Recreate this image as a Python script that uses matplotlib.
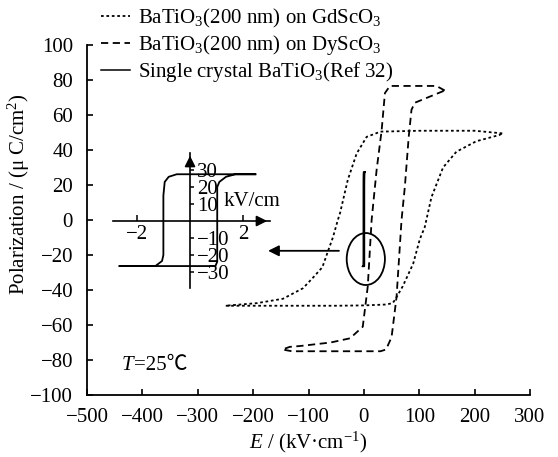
import matplotlib
matplotlib.use('Agg')
import matplotlib.pyplot as plt
from matplotlib.patches import Ellipse

plt.rcParams['font.family'] = ['Liberation Serif', 'Noto Sans CJK SC', 'DejaVu Sans']
plt.rcParams['mathtext.fontset'] = 'custom'
plt.rcParams['mathtext.rm'] = 'Liberation Serif'
plt.rcParams['mathtext.it'] = 'Liberation Serif:italic'
plt.rcParams['font.size'] = 15

# BaTiO3 (200 nm) on GdScO3 -- upper branch then lower branch
gd_E = [250, 200, 100, 30, 5, -13, -29, -43, -47, -56, -65, -75, -92, -110, -146, -193, -250,
        -150, -50, 0, 40, 52, 56, 70, 89, 101, 110, 122, 143, 167, 203, 245, 250]
gd_P = [49.5, 51, 51, 50.5, 47.5, 38, 23, 4, 0, -10, -18, -27, -33, -39, -45, -47.5, -49,
        -49, -49, -48.8, -48.3, -47.5, -45.7, -38, -25, -11, -4, 13, 30, 39, 45, 48.6, 49.5]

# BaTiO3 (200 nm) on DyScO3
dy_E = [146, 131, 47, 38, 32, 23, 14, 7, -2, -25, -60, -115, -134, -147,
        -130, 30, 40, 50, 59, 68, 74, 81, 86, 92, 146]
dy_P = [74, 76.6, 76.6, 72.5, 51, 28.6, 0, -38, -61, -67.6, -70, -72, -72.5, -74,
        -75, -75, -74, -67, -44, 0, 19, 47.6, 63, 67, 74]

# single crystal BaTiO3 (Ref 32), E in kV/cm
sc_E = [2.45, -0.5, -0.8, -0.95, -1.0, -1.0, -1.05, -1.3, -2.65,
        0.95, 1.02, 1.02, 1.1, 1.35, 1.7, 2.45]
sc_P = [27.5, 27.5, 26, 23, 15, -20, -23.5, -26.5, -26.5,
        -26.5, -24, 20, 23, 26, 27.5, 27.5]

x_ticks = [-500, -400, -300, -200, -100, 0, 100, 200, 300]
y_ticks = [-100, -80, -60, -40, -20, 0, 20, 40, 60, 80, 100]
inset_xticks = [-2, 2]
inset_yticks = [-30, -20, -10, 10, 20, 30]

fig = plt.figure(figsize=(5.58, 4.57), dpi=100)
ax = fig.add_axes([87/558, 1 - 395/457, 443/558, 350/457])

l_gd, = ax.plot(gd_E, gd_P, color='black', lw=1.3, linestyle=(0, (1.5, 1.5)))
l_dy, = ax.plot(dy_E, dy_P, color='black', lw=1.3, linestyle=(0, (4, 2.5)))
l_sc, = ax.plot(sc_E, sc_P, color='black', lw=1.1)

# ellipse + arrow pointing to the inset
ax.add_patch(Ellipse((3.5, -22.3), 69, 29.7, fill=False, lw=1.3, color='black'))
ax.annotate('', xy=(-178, -17.6), xytext=(-40, -17.6),
            arrowprops=dict(arrowstyle='-|>', color='black', lw=1.3, mutation_scale=16))

# temperature note (℃ kept out of mathtext so the font fallback works)
ax.text(-437, -83, 'T', fontsize=15, fontstyle='italic', ha='left', va='center')
ax.text(-415, -83, '=25℃', fontsize=15, ha='left', va='center')

ax.set_xlim(-500, 300)
ax.set_ylim(-100, 100)
ax.set_xticks(x_ticks)
ax.set_yticks(y_ticks)
ax.spines['top'].set_visible(False)
ax.spines['right'].set_visible(False)
for s in ('left', 'bottom'):
    ax.spines[s].set_linewidth(1.3)
ax.tick_params(direction='in', length=4, width=1.2)
ax.tick_params(axis='x', pad=9)
ax.tick_params(axis='y', pad=10)
ax.set_xlabel('$E$ / (kV·cm$^{-1}$)', labelpad=2)
ax.set_ylabel('Polarization / (μ C/cm$^2$)')
ax.yaxis.set_label_coords(-0.124, 0.574)

fig.legend([l_gd, l_dy, l_sc],
           ['BaTiO$_3$(200 nm) on GdScO$_3$', 'BaTiO$_3$(200 nm) on DyScO$_3$',
            'Single crystal BaTiO$_3$(Ref 32)'],
           loc='upper left', bbox_to_anchor=(101/558, 1 - 7/457), frameon=False,
           handlelength=1.4, handletextpad=0.4, labelspacing=0.15,
           borderpad=0, borderaxespad=0)

# inset with the single crystal loop
ins = fig.add_axes([113/558, 1 - 288/457, 157/558, 135/457])
ins.patch.set_alpha(0)
ins.plot(sc_E, sc_P, color='black', lw=1.3)
ins.set_xlim(-2.89, 3.0)
ins.set_ylim(-39.4, 40)
ins.spines['bottom'].set_position(('data', 0))
ins.spines['right'].set_position(('data', 0))
ins.spines['top'].set_visible(False)
ins.spines['left'].set_visible(False)
for s in ('bottom', 'right'):
    ins.spines[s].set_linewidth(1.2)
ins.yaxis.tick_right()
ins.set_xticks(inset_xticks)
ins.set_yticks(inset_yticks)
ins.tick_params(axis='x', direction='in', length=4, width=1.1, pad=3)
ins.tick_params(axis='y', direction='out', length=3, width=1.1, pad=2)
ins.annotate('', xy=(3.0, 0), xytext=(2.5, 0), annotation_clip=False,
             arrowprops=dict(arrowstyle='-|>', color='black', lw=1.2, mutation_scale=16))
ins.annotate('', xy=(0, 40), xytext=(0, 34), annotation_clip=False,
             arrowprops=dict(arrowstyle='-|>', color='black', lw=1.2, mutation_scale=16))
ins.text(1.25, 11.5, 'kV/cm', ha='left', va='center', fontsize=15)

fig.savefig('out.png', dpi=100)
